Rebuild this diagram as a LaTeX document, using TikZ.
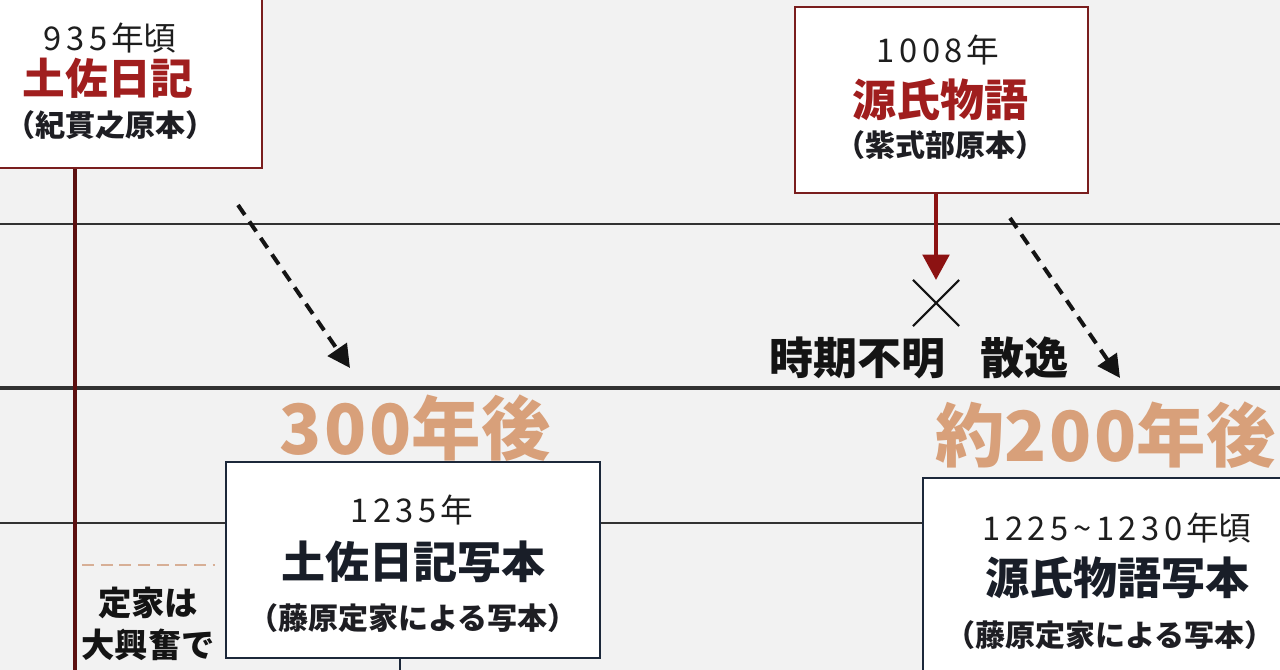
\documentclass[tikz,border=0pt]{standalone}
\usepackage{fontspec}
\setmainfont{Noto Sans CJK JP}
\usetikzlibrary{arrows.meta,shapes.misc}

\newcommand{\yrsp}[1]{{\addfontfeature{LetterSpace=14}#1}\hspace{0.12em}}

\begin{document}
\begin{tikzpicture}[x=0.75pt,y=0.75pt,yscale=-1,xscale=1,
	oldbox/.style={draw={rgb, 255:red, 122; green, 30; blue, 30}, line width=2.2pt, fill=white, inner sep=0pt},
	copybox/.style={draw={rgb, 255:red, 28; green, 40; blue, 58}, line width=2.2pt, fill=white, inner sep=0pt},
	hline/.style={draw={rgb, 255:red, 50; green, 50; blue, 50}, line width=2pt},
	yeartext/.style={inner sep=0pt, text={rgb, 255:red, 30; green, 30; blue, 30}, font=\fontsize{24.5}{24.5}\selectfont},
	titletext/.style={inner sep=0pt, font=\fontsize{33}{33}\selectfont\bfseries},
	subtext/.style={inner sep=0pt, text={rgb, 255:red, 30; green, 30; blue, 35}, font=\fontsize{22.5}{22.5}\selectfont\bfseries},
	notetext/.style={inner sep=0pt, text={rgb, 255:red, 20; green, 20; blue, 20}, font=\fontsize{33}{33}\selectfont\bfseries},
	later/.style={inner sep=0pt, text={rgb, 255:red, 216; green, 160; blue, 122}, font=\fontsize{52}{52}\selectfont\bfseries},
	lostpath/.style={draw={rgb, 255:red, 20; green, 20; blue, 20}, line width=3pt, dash pattern=on 9pt off 6pt, -{Triangle[length=17pt,width=17pt]}}
]
	\useasboundingbox (0,0) rectangle (1280,670);
	\clip (0,0) rectangle (1280,670);
	\fill [color={rgb, 255:red, 242; green, 242; blue, 242}] (0,0) rectangle (1280,670);
	
	%Straight Lines
	\draw [hline] (0,224) -- (1280,224);
	\draw [hline, line width=2.8pt] (0,388) -- (1280,388);
	\draw [hline] (0,523) -- (1280,523);
	%Dashed line
	\draw [color={rgb, 255:red, 215; green, 175; blue, 150}, line width=2pt, dash pattern=on 9pt off 5pt] (82,565) -- (215,565);
	
	%Shape: Boxes
	\node [oldbox, minimum width=228pt, minimum height=129pt] (tosabox) at (110,82) {};
	\node [oldbox, minimum width=219.75pt, minimum height=139.5pt] (genjibox) at (941.5,100) {};
	\node [copybox, minimum width=280.5pt, minimum height=147pt] (tosacopy) at (413,560) {};
	\node [copybox, minimum width=280.5pt, minimum height=147pt] (genjicopy) at (1110,576) {};
	
	%Vertical Lines
	\coordinate (tosaend) at (75,680);
	\coordinate (copyend) at (400,680);
	\draw [color={rgb, 255:red, 92; green, 16; blue, 16}, line width=3pt] (tosabox.south -| tosaend) -- (tosaend);
	\draw [color={rgb, 255:red, 28; green, 40; blue, 58}, line width=2.2pt] (tosacopy.south -| copyend) -- (copyend);
	
	%Lost mark and arrows
	\node [cross out, draw={rgb, 255:red, 20; green, 20; blue, 20}, line width=1.6pt, minimum size=33pt, inner sep=0pt] (lost) at (936,303) {};
	\draw [color={rgb, 255:red, 140; green, 18; blue, 18}, line width=2.6pt, -{Triangle[length=19pt,width=20pt]}] (genjibox.south -| lost) -- (lost.north);
	\coordinate (tosafrom) at (238,205);
	\coordinate (tosato) at (350,368);
	\coordinate (genjifrom) at (1010,218);
	\coordinate (genjito) at (1120,378);
	\draw [lostpath] (tosafrom) -- (tosato);
	\draw [lostpath] (genjifrom) -- (genjito);
	
	% Text Node
	\node [yeartext] (tosayear) at (110,38) {\yrsp{935}年頃};
	\node [titletext, text={rgb, 255:red, 160; green, 30; blue, 30}, font=\fontsize{32}{32}\selectfont\bfseries] (tosatitle) at (108,78) {土佐日記};
	\node [subtext] (tosasub) at (110,125) {（紀貫之原本）};
	% Text Node
	\node [yeartext] (genjiyear) at (938,50) {\yrsp{1008}年};
	\node [titletext, text={rgb, 255:red, 160; green, 30; blue, 30}] (genjititle) at (940,100) {源氏物語};
	\node [subtext] (genjisub) at (940,145) {（紫式部原本）};
	% Text Node
	\node [yeartext] (tosacopyyear) at (412,510) {\yrsp{1235}年};
	\node [titletext, text={rgb, 255:red, 25; green, 30; blue, 40}] (tosacopytitle) at (413,562) {土佐日記写本};
	\node [subtext] (tosacopysub) at (413,618) {（藤原定家による写本）};
	% Text Node
	\node [yeartext] (genjicopyyear) at (1117,528) {\yrsp{1225\textasciitilde1230}年頃};
	\node [titletext, text={rgb, 255:red, 25; green, 30; blue, 40}] (genjicopytitle) at (1117,578) {源氏物語写本};
	\node [subtext] (genjicopysub) at (1110,635) {（藤原定家による写本）};
	% Text Node
	\node [notetext] (unknown) at (857,358) {時期不明};
	\node [notetext] (scatter) at (1024,358) {散逸};
	\node [later] (gap300) at (415,428) {{\addfontfeature{LetterSpace=4}300}年後};
	\node [later, anchor=west] (gap200) at (935,435) {約{\addfontfeature{LetterSpace=4}200}年後};
	\node [notetext, font=\fontsize{25}{25}\selectfont\bfseries] (teika1) at (148,603) {定家は};
	\node [notetext, font=\fontsize{25}{25}\selectfont\bfseries] (teika2) at (148,645) {大興奮で};
\end{tikzpicture}
\end{document}
